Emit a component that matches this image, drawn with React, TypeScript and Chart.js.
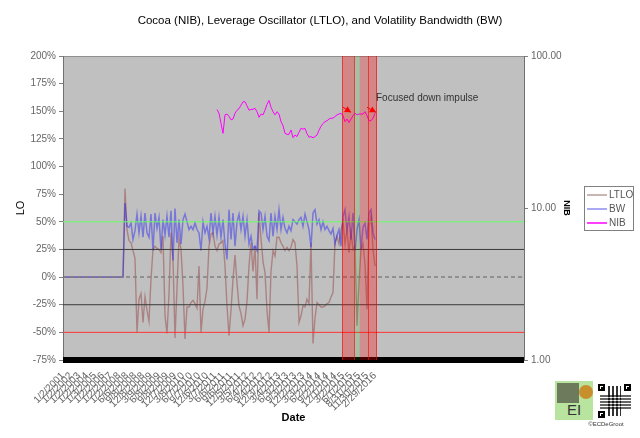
import React, { useEffect, useRef } from "react";
import { Chart, registerables } from "chart.js";

Chart.register(...registerables);

const TITLE = "Cocoa (NIB), Leverage Oscillator (LTLO), and Volatility Bandwidth (BW)";

// x axis: date tick labels, one every LABEL_EVERY index steps
const DATE_LABELS = [
  "1/2/2001", "1/2/2002", "1/2/2003", "1/2/2004", "1/3/2005", "1/2/2006", "1/2/2007", "1/2/2008",
  "6/6/2008", "9/8/2008", "12/8/2008", "3/9/2009", "6/8/2009", "9/8/2009", "12/7/2009", "3/8/2010",
  "6/7/2010", "9/7/2010", "12/6/2010", "3/7/2011", "6/6/2011", "9/6/2011", "12/5/2011", "3/5/2012",
  "6/4/2012", "9/4/2012", "12/3/2012", "3/4/2013", "6/3/2013", "9/3/2013", "12/2/2013", "3/3/2014",
  "6/2/2014", "9/2/2014", "12/1/2014", "3/2/2015", "6/1/2015", "8/31/2015", "11/30/2015", "2/29/2016",
];
const LABEL_EVERY = 4;
const X_MIN = 0;
const X_MAX = 230.5;

// flat lead-in before the series start
const LEAD_X = 0;
const LEAD_Y = 0;
const SERIES_START = 30;

// Volatility Bandwidth (%)
const BW = [
  0, 67, 46, 45, 49, 34, 42, 57, 40, 55, 36, 58, 40, 36, 57, 24, 58, 44, 54, 25,
  52, 38, 55, 36, 60, 15, 62, 31, 52, 30, 52, 57, 50, 43, 46, 43, 49, 43, 40, 24,
  50, 40, 46, 35, 58, 40, 55, 38, 54, 36, 52, 30, 16, 61, 34, 58, 28, 50, 57, 43,
  55, 37, 52, 30, 37, 25, 28, 24, 60, 58, 43, 55, 37, 33, 58, 37, 55, 43, 61, 43,
  54, 44, 40, 46, 42, 52, 50, 48, 52, 54, 46, 57, 50, 43, 27, 58, 61, 48, 52, 43,
  50, 43, 46, 42, 39, 44, 30, 38, 43, 28, 55, 61, 43, 55, 34, 58, 24, 43, 52, 25,
  45, 49, 34, 58, 61, 40, 34,
];

// Leverage Oscillator (%)
const LTLO = [
  0, 80, 43, 33, 31, 24, 17, -50, -20, -15, -41, -18, -30, -40, -2, 25, 28, 26, 25, 22,
  37, -35, -51, -15, 40, 16, -55, -10, 35, 25, -8, -56, -27, -27, -23, -21, -24, -28, 10, -50,
  -29, -22, -10, 28, 39, 40, 28, 24, 30, 31, 33, 10, -26, -53, -30, -2, 20, -5, -26, -33,
  -44, -38, -22, 10, 31, 5, 28, -20, 58, 35, 14, 4, -30, -50, 5, 24, 19, 36, 36, 31,
  28, 24, 27, 24, 27, 34, 31, 10, -41, -35, -26, -27, -20, -24, 31, -60, -37, -23, -25, -27,
  -27, -26, -24, -23, -18, -14, 31, 37, 30, 43, 50, 30, 43, 22, 40, 25, 28, -44, -5, 25,
  30, 12, -29, 46, 55, 25, 10,
];

// Cocoa ETN price (log axis)
const NIB_START = 77;
const NIB = [
  44.5, 42, 36, 31, 41, 41.5, 40, 38, 38.5, 42, 44, 45, 47.5, 50, 50, 47, 44, 44.5, 44.6, 45.3,
  43, 39.5, 41.5, 41, 44, 48, 51, 46, 43, 41, 43, 41.5, 37, 34.8, 31, 30.5, 30.5, 32.6, 29, 30.2,
  29.5, 31.5, 33.5, 33, 33.4, 30.8, 29.2, 29.5, 29, 29.5, 30.2, 32.5, 34.5, 36, 37, 37.5, 38.5, 39, 39, 40,
  41, 41.5, 42, 40.5, 37, 38.5, 36.5, 38.5, 40.5, 42, 41, 41.5, 41.5, 41.5, 43, 40.5, 37.5, 37.5, 39, 42,
];

const LO_MIN = -75;
const LO_MAX = 200;
const LO_STEP = 25;
const NIB_TICKS = [1, 10, 100];

// horizontal reference levels on the LO axis
const REF_LEVELS = [50, 25, 0, -25, -50, -75];
const REF_COLORS = ["#66ff66", "#3a3a3a", "#808080", "#3a3a3a", "#ff3333", "#000000"];
const REF_WIDTHS = [1, 1, 1.5, 1, 1, 6];
const REF_DASH = [[], [], [4, 3], [], [], []];

// shaded date bands
const BAND_FROM = [139.5, 145.75, 148.35, 152.25];
const BAND_TO = [145.75, 148.35, 152.25, 157];
const BAND_FILL = ["rgba(255,0,0,0.3)", "rgba(0,190,0,0.14)", "rgba(255,0,0,0.26)", "rgba(255,0,0,0.3)"];
const BAND_EDGE = [true, false, false, true];

// annotation arrows (x index, NIB value)
const ARROW_X0 = [140, 152];
const ARROW_Y0 = [46, 46];
const ARROW_X1 = [144, 156.5];
const ARROW_Y1 = [42.6, 42.6];
const NOTE = "Focused down impulse";
const NOTE_X = 156.5;
const NOTE_Y = 53;

const LEGEND_NAMES = ["LTLO", "BW", "NIB"];
const LEGEND_COLORS = ["#b89c9c", "#8c8cf0", "#ff00ff"];

const FONT = "'Liberation Sans', Arial, sans-serif";

const decor = {
  id: "decor",
  beforeDraw(chart: any) {
    const { ctx, chartArea: a } = chart;
    ctx.save();
    ctx.fillStyle = "#c0c0c0";
    ctx.fillRect(a.left, a.top, a.right - a.left, a.bottom - a.top);
    ctx.strokeStyle = "#909090";
    ctx.lineWidth = 1;
    ctx.beginPath();
    ctx.moveTo(a.left, a.top + 0.5);
    ctx.lineTo(a.right, a.top + 0.5);
    ctx.stroke();
    ctx.restore();
  },
  afterDatasetsDraw(chart: any) {
    const { ctx, chartArea: a, scales } = chart;
    const xs = scales.x;
    const ys = scales.y1;
    ctx.save();
    BAND_FROM.forEach((f, i) => {
      const x0 = xs.getPixelForValue(f);
      const x1 = xs.getPixelForValue(BAND_TO[i]);
      ctx.fillStyle = BAND_FILL[i];
      ctx.fillRect(x0, a.top, x1 - x0, a.bottom - a.top);
      if (BAND_EDGE[i]) {
        ctx.strokeStyle = "rgba(255,0,0,0.6)";
        ctx.lineWidth = 1;
        ctx.beginPath();
        ctx.moveTo(Math.round(x0) + 0.5, a.top);
        ctx.lineTo(Math.round(x0) + 0.5, a.bottom);
        ctx.moveTo(Math.round(x1) - 0.5, a.top);
        ctx.lineTo(Math.round(x1) - 0.5, a.bottom);
        ctx.stroke();
      }
    });
    ARROW_X0.forEach((ax, i) => {
      const px0 = xs.getPixelForValue(ax);
      const py0 = ys.getPixelForValue(ARROW_Y0[i]);
      const px1 = xs.getPixelForValue(ARROW_X1[i]);
      const py1 = ys.getPixelForValue(ARROW_Y1[i]);
      ctx.strokeStyle = "#ff0000";
      ctx.fillStyle = "#ff0000";
      ctx.lineWidth = 1;
      ctx.beginPath();
      ctx.moveTo(px0, py0);
      ctx.lineTo(px1, py1);
      ctx.stroke();
      const ang = Math.atan2(py1 - py0, px1 - px0);
      const L = 7;
      ctx.beginPath();
      ctx.moveTo(px1, py1);
      ctx.lineTo(px1 - L * Math.cos(ang - 0.5), py1 - L * Math.sin(ang - 0.5));
      ctx.lineTo(px1 - L * Math.cos(ang + 0.5), py1 - L * Math.sin(ang + 0.5));
      ctx.closePath();
      ctx.fill();
    });
    ctx.fillStyle = "#333";
    ctx.font = `10px ${FONT}`;
    ctx.textBaseline = "middle";
    ctx.textAlign = "left";
    ctx.fillText(NOTE, xs.getPixelForValue(NOTE_X), ys.getPixelForValue(NOTE_Y));
    ctx.restore();
  },
  afterDraw(chart: any) {
    const { ctx } = chart;
    ctx.save();
    ctx.fillStyle = "#ffffff";
    ctx.fillRect(584.5, 186.5, 49, 44);
    ctx.strokeStyle = "#808080";
    ctx.lineWidth = 1;
    ctx.strokeRect(584.5, 186.5, 49, 44);
    ctx.font = `10px ${FONT}`;
    ctx.textBaseline = "middle";
    ctx.textAlign = "left";
    LEGEND_NAMES.forEach((n, i) => {
      const y = 195 + i * 14;
      ctx.strokeStyle = LEGEND_COLORS[i];
      ctx.lineWidth = 1.5;
      ctx.beginPath();
      ctx.moveTo(587, y);
      ctx.lineTo(607, y);
      ctx.stroke();
      ctx.fillStyle = "#555";
      ctx.fillText(n, 609, y);
    });
    ctx.restore();
  },
};

export default function App() {
  const ref = useRef<HTMLCanvasElement | null>(null);

  useEffect(() => {
    if (!ref.current) return;
    Chart.defaults.font.family = FONT;
    Chart.defaults.font.size = 10;

    const refSets = REF_LEVELS.map((lv, i) => ({
      label: "ref" + i,
      data: [
        { x: X_MIN, y: lv },
        { x: X_MAX, y: lv },
      ],
      borderColor: REF_COLORS[i],
      borderWidth: REF_WIDTHS[i],
      borderDash: REF_DASH[i],
      pointRadius: 0,
      yAxisID: "y",
      clip: false as any,
    }));

    const chart = new Chart(ref.current, {
      type: "line",
      data: {
        datasets: [
          ...refSets,
          {
            label: "NIB",
            data: NIB.map((v, i) => ({ x: NIB_START + i, y: v })),
            borderColor: "#ff00ff",
            borderWidth: 1,
            pointRadius: 0,
            yAxisID: "y1",
          },
          {
            label: "BW",
            data: [{ x: LEAD_X, y: LEAD_Y }, ...BW.map((v, i) => ({ x: SERIES_START + i, y: v }))],
            borderColor: "rgba(0,0,255,0.38)",
            borderWidth: 1.5,
            pointRadius: 0,
            yAxisID: "y",
          },
          {
            label: "LTLO",
            data: [{ x: LEAD_X, y: LEAD_Y }, ...LTLO.map((v, i) => ({ x: SERIES_START + i, y: v }))],
            borderColor: "rgba(128,0,0,0.32)",
            borderWidth: 1.4,
            pointRadius: 0,
            yAxisID: "y",
          },
        ] as any,
      },
      options: {
        animation: false,
        responsive: true,
        maintainAspectRatio: false,
        events: [],
        layout: { padding: 0 },
        plugins: {
          legend: { display: false },
          tooltip: { enabled: false },
          title: {
            display: true,
            text: TITLE,
            color: "#000",
            font: { size: 11.5, weight: "normal", family: FONT },
            padding: { top: 13.7, bottom: 28.5 },
          },
        },
        scales: {
          x: {
            type: "linear",
            min: X_MIN,
            max: X_MAX,
            grid: { display: false },
            border: { display: false },
            ticks: {
              stepSize: LABEL_EVERY,
              maxTicksLimit: 1000,
              autoSkip: false,
              minRotation: 45,
              maxRotation: 45,
              color: "#666",
              font: { size: 10 },
              padding: 2,
              callback: (v: any) => {
                const i = Number(v) / LABEL_EVERY;
                return Number.isInteger(i) && DATE_LABELS[i] ? DATE_LABELS[i] : "";
              },
            },
            title: {
              display: true,
              text: "Date",
              color: "#000",
              font: { size: 11, weight: "bold" },
              padding: { top: 0, bottom: 13.4 },
            },
            afterFit: (s: any) => {
              s.height = 78;
            },
          },
          y: {
            type: "linear",
            position: "left",
            min: LO_MIN,
            max: LO_MAX,
            grid: { drawOnChartArea: false, drawTicks: true, tickLength: 4, color: "#808080" },
            border: { display: true, color: "#707070" },
            ticks: {
              stepSize: LO_STEP,
              color: "#666",
              padding: 3,
              callback: (v: any) => v + "%",
            },
            title: {
              display: true,
              text: "LO",
              color: "#000",
              font: { size: 11 },
              padding: { top: 14, bottom: 0 },
            },
            afterFit: (s: any) => {
              s.width = 63;
            },
          },
          y1: {
            type: "logarithmic",
            position: "right",
            min: 1,
            max: 100,
            grid: { drawOnChartArea: false, drawTicks: true, tickLength: 4, color: "#808080" },
            border: { display: true, color: "#707070" },
            afterBuildTicks: (s: any) => {
              s.ticks = NIB_TICKS.map((v) => ({ value: v }));
            },
            ticks: {
              color: "#666",
              padding: 3,
              callback: (v: any) => Number(v).toFixed(2),
            },
            title: {
              display: true,
              text: "NIB",
              color: "#000",
              font: { size: 9, weight: "bold" },
              padding: { top: 68.6, bottom: 0 },
            },
            afterFit: (s: any) => {
              s.width = 116;
            },
          },
        },
      },
      plugins: [decor],
    });
    return () => chart.destroy();
  }, []);

  const finder = (left: number, top: number) => (
    <div
      style={{
        position: "absolute",
        left,
        top,
        width: 7,
        height: 7,
        border: "2px solid #000",
        boxSizing: "border-box",
        background: "#fff",
      }}
    >
      <div style={{ position: "absolute", left: 1, top: 1, width: 1.5, height: 1.5, background: "#000" }} />
    </div>
  );

  return (
    <div style={{ position: "absolute", left: 0, top: 0, width: 640, height: 438, background: "#fff" }}>
      <canvas ref={ref} />
      <div
        style={{
          position: "absolute",
          left: 555,
          top: 381,
          width: 38,
          height: 39,
          background: "#b8e4a0",
          overflow: "hidden",
        }}
      >
        <div style={{ position: "absolute", left: 2, top: 2, width: 22, height: 20, background: "#6d7a5c" }} />
        <div style={{ position: "absolute", left: 24, top: 4, width: 14, height: 14, borderRadius: 7, background: "#c8902c" }} />
        <div
          style={{
            position: "absolute",
            left: 0,
            top: 20,
            width: 38,
            textAlign: "center",
            fontFamily: FONT,
            fontSize: 15,
            color: "#333",
          }}
        >
          EI
        </div>
      </div>
      <div style={{ position: "absolute", left: 597, top: 383, width: 36, height: 37, background: "#fff" }}>
        {finder(1, 1)}
        {finder(27, 1)}
        {finder(1, 28)}
        <div style={{ position: "absolute", left: 11, top: 3, width: 13, height: 30, background: "repeating-linear-gradient(90deg,#000 0 2px,#fff 2px 4px)", opacity: 0.8 }} />
        <div style={{ position: "absolute", left: 3, top: 12, width: 31, height: 14, background: "repeating-linear-gradient(0deg,#000 0 2px,#fff 2px 3px)", opacity: 0.6 }} />
      </div>
      <div
        style={{
          position: "absolute",
          left: 576,
          top: 421,
          width: 60,
          textAlign: "center",
          fontFamily: FONT,
          fontSize: 6,
          color: "#333",
        }}
      >
        ©ECDeGroot
      </div>
    </div>
  );
}
